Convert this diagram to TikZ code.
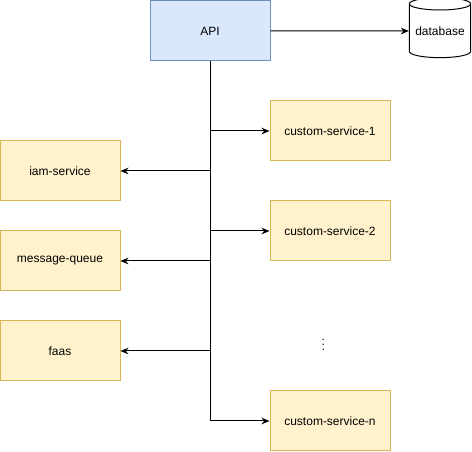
\documentclass[tikz,border=0pt]{standalone}
\usepackage{fontspec}
\setmainfont{Liberation Sans}
\usetikzlibrary{positioning,shapes.geometric,arrows.meta}
\definecolor{apifill}{HTML}{DAE8FC}
\definecolor{apiline}{HTML}{6C8EBF}
\definecolor{svcfill}{HTML}{FFF2CC}
\definecolor{svcline}{HTML}{D6B656}

\begin{document}
\begin{tikzpicture}[on grid,line width=0.75pt,>={Stealth[length=6pt,width=5pt]},
    font=\fontsize{9pt}{11pt}\selectfont,
    apibox/.style={draw=apiline,fill=apifill,minimum width=90pt,minimum height=45pt},
    svcbox/.style={draw=svcline,fill=svcfill,minimum width=90pt,minimum height=45pt},
    dbstore/.style={draw,cylinder,shape border rotate=90,aspect=0.25,
      minimum width=46pt,minimum height=45pt,inner sep=0pt}]
   \useasboundingbox (0,0) rectangle (354pt,-339pt);
   \node[apibox] (api) at (157.5pt,-23.25pt) {API};
   \node[dbstore] (db) [right=172.5pt of api] {database};
   \node[svcbox] (cs1) [below right=75pt and 90pt of api] {custom-service-1};
   \node[svcbox] (cs2) [below=75pt of cs1] {custom-service-2};
   \node[svcbox] (csn) [below=142.5pt of cs2] {custom-service-n};
   \node (dots) [above=60pt of csn,xshift=-5pt] {$\vdots$};
   \node[svcbox] (iam) [below left=105pt and 112.5pt of api] {iam-service};
   \node[svcbox] (mq) [below=67.5pt of iam] {message-queue};
   \node[svcbox] (faas) [below=67.5pt of mq] {faas};
    \draw[->] (api) -- (db);
    \draw[->] (api.south) |- (csn.west);
    \draw[->] (api.south |- cs1) -- (cs1.west);
    \draw[->] (api.south |- cs2) -- (cs2.west);
    \draw[->] (api.south |- iam) -- (iam.east);
    \draw[->] (api.south |- mq) -- (mq.east);
    \draw[->] (api.south |- faas) -- (faas.east);
\end{tikzpicture}
\end{document}
